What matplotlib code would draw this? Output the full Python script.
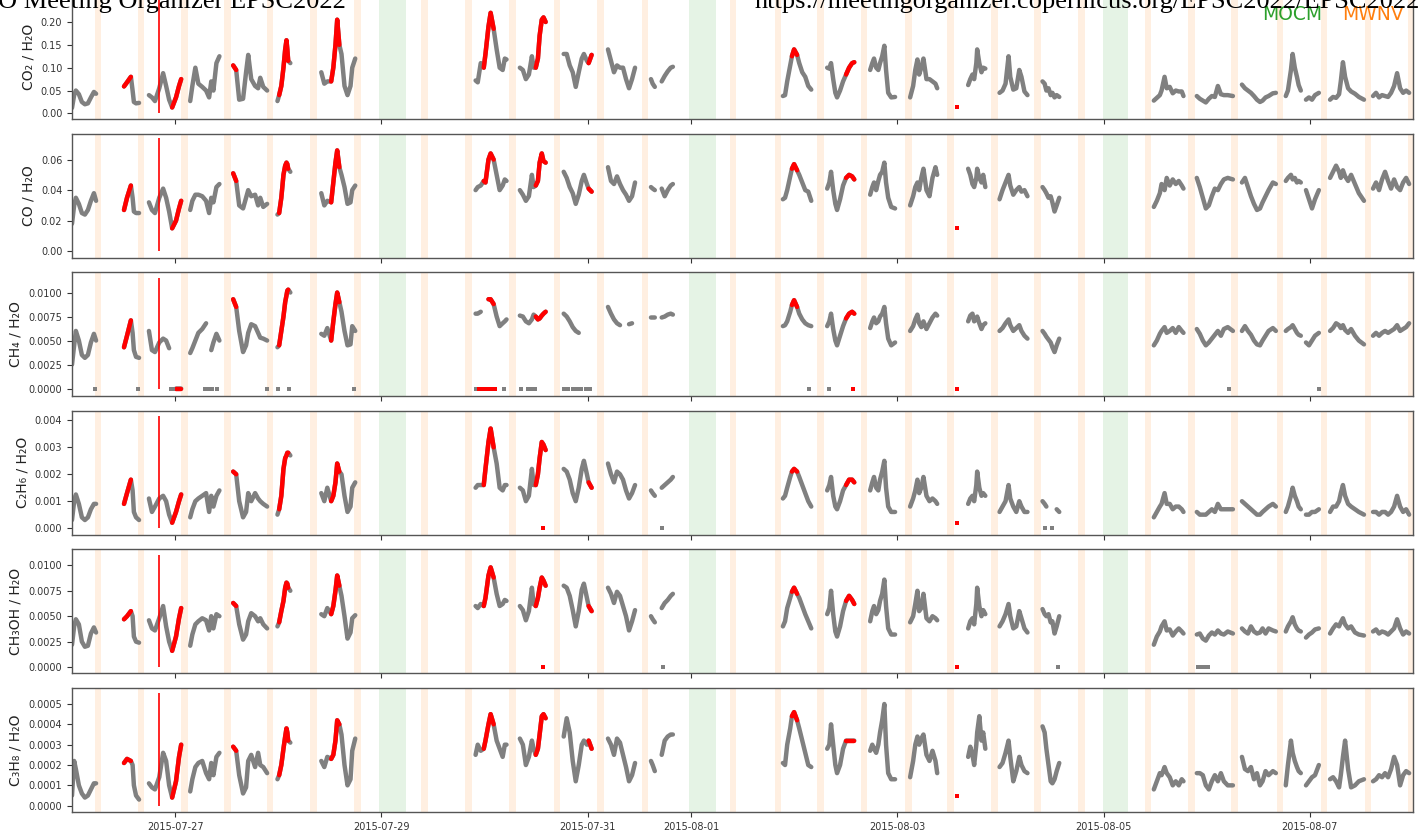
import numpy as np
import matplotlib
matplotlib.use('Agg')
import matplotlib.pyplot as plt
import matplotlib.dates as mdates
from matplotlib.ticker import FixedLocator, FormatStrFormatter

nan = np.nan

# hours since 2015-07-26 00:00 for each data segment
seg_hours = [
    [0.0, 0.5, 0.9, 1.6, 2.3, 3.0, 3.7, 4.4, 5.1, 5.6],
    [12.1, 12.8, 13.7, 14.1, 14.4, 14.9, 15.6],
    [17.9, 18.6, 19.3, 20.3, 21.2, 21.9, 22.6, 23.3, 24.2, 24.9, 25.4],
    [27.5, 28.0, 28.7, 29.4, 30.3, 31.2, 31.9, 32.4, 32.9, 33.6, 34.3],
    [37.5, 38.2, 38.9, 39.8, 40.5, 41.0, 41.7, 42.6, 43.3, 43.8, 44.5, 45.4],
    [47.8, 48.2, 48.7, 49.2, 49.6, 49.9, 50.1, 50.3, 50.8],
    [58.0, 58.7, 59.4, 60.3, 60.8, 61.3, 61.7, 62.2, 62.7, 63.4, 64.1, 64.8, 65.2, 65.9],
    [93.9, 94.4, 95.1, 95.8, 96.2, 96.9, 97.4, 98.1, 98.8, 99.5, 100.2, 100.7, 101.1],
    [104.2, 104.9, 105.6, 106.3, 107.0, 107.4, 107.9, 108.4, 108.8, 109.3, 109.7, 110.2],
    [114.4, 115.1, 115.8, 116.5, 117.2, 117.9, 118.6, 119.1, 119.8, 120.2, 120.9],
    [124.7, 125.4, 126.1, 126.8, 127.5, 128.2, 128.9, 129.6, 130.3, 131.0],
    [134.7, 135.1, 135.6, 136.3, 137.2, 137.9, 138.6, 139.3, 139.8],
    [165.4, 165.9, 166.4, 167.1, 167.5, 168.0, 168.7, 169.2, 169.9, 170.6, 171.3, 172.0],
    [175.7, 176.2, 176.6, 177.1, 177.6, 178.0, 178.7, 179.4, 180.1, 180.8, 181.5, 182.0],
    [185.7, 186.2, 186.6, 187.1, 187.6, 188.0, 188.5, 189.0, 189.4, 189.9, 190.6, 191.5],
    [195.0, 195.7, 196.2, 196.7, 197.1, 197.6, 198.1, 198.8, 199.5, 200.2, 200.9, 201.3],
    [208.5, 209.0, 209.5, 209.9, 210.4, 210.6, 211.1, 211.6, 212.0, 212.5],
    [215.8, 216.5, 217.2, 217.9, 218.3, 219.0, 219.7, 220.4, 220.9, 221.6, 222.3],
    [225.8, 226.3, 226.7, 227.2, 227.7, 228.1, 228.6, 229.1, 229.7],
    [251.7, 252.4, 253.1, 253.5, 254.2, 254.7, 255.4, 256.1, 256.8, 257.5, 258.2, 258.6],
    [261.7, 262.4, 263.1, 263.8, 264.5, 265.2, 265.9, 266.6, 267.3, 268.0, 268.9, 270.1],
    [272.2, 272.9, 273.6, 274.3, 275.0, 275.7, 276.4, 277.0, 277.7, 278.4, 279.4, 280.1],
    [282.4, 282.9, 283.6, 284.0, 284.5, 285.0, 285.4, 285.9, 286.4, 287.1, 287.8, 288.5, 289.2, 290.1],
    [292.7, 293.4, 294.1, 294.8, 295.2, 295.7, 296.2, 296.9, 297.6, 298.5, 299.4, 300.6],
    [302.7, 303.4, 304.1, 304.8, 305.5, 306.2, 306.9, 307.6, 308.3, 309.0, 309.7, 310.4, 311.1],
]

# index range (first, last) of flagged samples in each segment
seg_red = [None, (0, 2), (7, 10), None, (0, 1), (1, 7), (3, 7), (3, 7), (6, 11), (9, 10),
           None, None, (4, 6), (8, 11), None, None, None, None, None, None, None, None,
           None, None, None]

co2 = [
    [0.012, 0.040, 0.050, 0.042, 0.025, 0.020, 0.022, 0.035, 0.047, 0.043],
    [0.059, 0.068, 0.080, 0.050, 0.025, 0.022, 0.023],
    [0.040, 0.035, 0.027, 0.055, 0.088, 0.060, 0.030, 0.013, 0.035, 0.060, 0.075],
    [0.027, 0.060, 0.100, 0.065, 0.058, 0.050, 0.035, 0.070, 0.050, 0.110, 0.125],
    [0.105, 0.095, 0.030, 0.032, 0.090, 0.128, 0.075, 0.060, 0.055, 0.078, 0.058, 0.050],
    [0.027, 0.040, 0.060, 0.100, 0.140, 0.160, 0.140, 0.115, 0.110],
    [0.090, 0.065, 0.070, 0.070, 0.100, 0.150, 0.205, 0.150, 0.130, 0.060, 0.040, 0.060, 0.100, 0.120],
    [0.072, 0.068, 0.110, 0.100, 0.130, 0.190, 0.220, 0.185, 0.140, 0.100, 0.095, 0.120, 0.118],
    [0.100, 0.095, 0.075, 0.085, 0.125, 0.100, 0.100, 0.120, 0.170, 0.205, 0.210, 0.200],
    [0.130, 0.130, 0.105, 0.090, 0.058, 0.090, 0.120, 0.130, 0.115, 0.110, 0.128],
    [0.140, 0.115, 0.090, 0.105, 0.100, 0.100, 0.075, 0.055, 0.075, 0.100],
    [0.075, 0.065, 0.058, nan, 0.070, 0.082, 0.092, 0.100, 0.102],
    [0.038, 0.040, 0.070, 0.105, 0.125, 0.140, 0.128, 0.110, 0.090, 0.080, 0.060, 0.052],
    [0.100, 0.098, 0.110, 0.075, 0.045, 0.035, 0.050, 0.070, 0.085, 0.100, 0.110, 0.112],
    [0.095, 0.110, 0.120, 0.100, 0.095, 0.110, 0.125, 0.148, 0.095, 0.045, 0.035, 0.036],
    [0.035, 0.060, 0.095, 0.118, 0.085, 0.100, 0.120, 0.075, 0.075, 0.070, 0.065, 0.055],
    [0.062, 0.075, 0.085, 0.075, 0.110, 0.140, 0.110, 0.090, 0.100, 0.098],
    [0.045, 0.050, 0.065, 0.125, 0.080, 0.052, 0.055, 0.095, 0.080, 0.048, 0.040],
    [0.070, 0.065, 0.050, 0.055, 0.040, 0.045, 0.035, 0.040, 0.036],
    [0.028, 0.034, 0.040, 0.050, 0.080, 0.055, 0.058, 0.044, 0.050, 0.048, 0.048, 0.038],
    [0.038, 0.032, 0.028, 0.024, 0.032, 0.038, 0.036, 0.060, 0.042, 0.040, 0.040, 0.038],
    [0.063, 0.055, 0.050, 0.045, 0.038, 0.030, 0.025, 0.028, 0.035, 0.038, 0.044, 0.045],
    [0.038, 0.050, 0.095, 0.130, 0.100, 0.080, 0.062, 0.050, nan, 0.030, 0.035, 0.030, 0.040, 0.045],
    [0.030, 0.036, 0.034, 0.042, 0.070, 0.112, 0.080, 0.055, 0.048, 0.043, 0.036, 0.030],
    [0.038, 0.045, 0.035, 0.040, 0.038, 0.036, 0.045, 0.060, 0.088, 0.055, 0.045, 0.050, 0.045],
]

co = [
    [0.018, 0.030, 0.035, 0.031, 0.025, 0.024, 0.027, 0.033, 0.038, 0.033],
    [0.027, 0.035, 0.043, 0.035, 0.026, 0.025, 0.025],
    [0.032, 0.027, 0.025, 0.035, 0.041, 0.035, 0.026, 0.015, 0.020, 0.028, 0.033],
    [0.027, 0.033, 0.037, 0.037, 0.036, 0.033, 0.025, 0.035, 0.032, 0.042, 0.044],
    [0.051, 0.046, 0.030, 0.028, 0.035, 0.040, 0.036, 0.037, 0.030, 0.035, 0.029, 0.031],
    [0.024, 0.025, 0.035, 0.050, 0.056, 0.058, 0.057, 0.054, 0.052],
    [0.038, 0.030, 0.033, 0.032, 0.045, 0.058, 0.066, 0.055, 0.050, 0.042, 0.031, 0.032, 0.040, 0.043],
    [0.040, 0.042, 0.043, 0.046, 0.045, 0.060, 0.064, 0.060, 0.050, 0.040, 0.043, 0.047, 0.046],
    [0.040, 0.037, 0.033, 0.036, 0.050, 0.042, 0.043, 0.046, 0.058, 0.064, 0.059, 0.058],
    [0.052, 0.048, 0.042, 0.038, 0.031, 0.037, 0.046, 0.050, 0.044, 0.041, 0.039],
    [0.055, 0.046, 0.044, 0.049, 0.044, 0.040, 0.037, 0.033, 0.036, 0.045],
    [0.042, 0.041, 0.040, nan, 0.041, 0.036, 0.040, 0.043, 0.044],
    [0.034, 0.035, 0.040, 0.049, 0.054, 0.057, 0.053, 0.050, 0.045, 0.040, 0.039, 0.033],
    [0.041, 0.045, 0.052, 0.040, 0.031, 0.027, 0.034, 0.043, 0.048, 0.050, 0.049, 0.047],
    [0.037, 0.042, 0.045, 0.040, 0.046, 0.050, 0.052, 0.058, 0.045, 0.035, 0.029, 0.028],
    [0.030, 0.036, 0.042, 0.045, 0.040, 0.048, 0.054, 0.040, 0.036, 0.048, 0.055, 0.050],
    [0.054, 0.050, 0.044, 0.042, 0.048, 0.054, 0.048, 0.045, 0.050, 0.042],
    [0.034, 0.040, 0.045, 0.050, 0.043, 0.037, 0.040, 0.042, 0.039, 0.040, 0.036],
    [0.042, 0.040, 0.038, 0.035, 0.036, 0.032, 0.026, 0.030, 0.035],
    [0.029, 0.033, 0.038, 0.044, 0.040, 0.048, 0.043, 0.047, 0.044, 0.046, 0.043, 0.041],
    [0.048, 0.042, 0.035, 0.028, 0.030, 0.036, 0.041, 0.040, 0.044, 0.047, 0.048, 0.047],
    [0.045, 0.048, 0.042, 0.036, 0.031, 0.027, 0.028, 0.032, 0.036, 0.040, 0.045, 0.044],
    [0.046, 0.048, 0.050, 0.047, 0.048, 0.045, 0.046, 0.045, nan, 0.040, 0.034, 0.028, 0.034, 0.040],
    [0.048, 0.052, 0.056, 0.052, 0.048, 0.053, 0.049, 0.046, 0.050, 0.044, 0.038, 0.033],
    [0.041, 0.045, 0.040, 0.047, 0.052, 0.046, 0.041, 0.047, 0.042, 0.040, 0.045, 0.048, 0.044],
]

ch4 = [
    [0.0025, 0.0045, 0.0060, 0.0050, 0.0035, 0.0032, 0.0035, 0.0048, 0.0057, 0.0050],
    [0.0043, 0.0055, 0.0071, 0.0058, 0.0040, 0.0033, 0.0032],
    [0.0060, 0.0040, 0.0038, 0.0048, 0.0052, 0.0050, 0.0042, nan, 0.0, 0.0, 0.0],
    [0.0037, 0.0042, 0.0050, 0.0058, 0.0062, 0.0068, nan, 0.0040, 0.0048, 0.0057, 0.0050],
    [0.0093, 0.0085, 0.0060, 0.0038, 0.0045, 0.0058, 0.0067, 0.0065, 0.0058, 0.0053, 0.0052, 0.0050],
    [0.0043, 0.0045, 0.0060, 0.0075, 0.0090, 0.0097, 0.0102, 0.0103, 0.0100],
    [0.0057, 0.0055, 0.0063, 0.0050, 0.0070, 0.0088, 0.0100, 0.0090, 0.0080, 0.0060, 0.0045, 0.0046, 0.0065, 0.0060],
    [0.0078, 0.0078, 0.0080, nan, nan, 0.0093, 0.0093, 0.0088, 0.0075, 0.0065, 0.0068, 0.0070, 0.0072],
    [0.0076, 0.0075, 0.0070, 0.0068, 0.0072, 0.0077, 0.0075, 0.0072, 0.0073, 0.0076, 0.0078, 0.0080],
    [0.0078, 0.0075, 0.0070, 0.0064, 0.0060, 0.0058, nan, nan, nan, nan, nan],
    [0.0085, 0.0078, 0.0072, 0.0068, 0.0066, nan, nan, 0.0067, 0.0068, nan],
    [0.0074, 0.0074, 0.0074, nan, 0.0074, 0.0075, 0.0077, 0.0078, 0.0077],
    [0.0065, 0.0066, 0.0070, 0.0080, 0.0087, 0.0092, 0.0085, 0.0078, 0.0072, 0.0068, 0.0066, 0.0065],
    [0.0065, 0.0070, 0.0078, 0.0062, 0.0050, 0.0045, 0.0055, 0.0065, 0.0073, 0.0078, 0.0080, 0.0078],
    [0.0063, 0.0070, 0.0074, 0.0068, 0.0070, 0.0075, 0.0078, 0.0085, 0.0068, 0.0052, 0.0045, 0.0048],
    [0.0060, 0.0065, 0.0072, 0.0077, 0.0068, 0.0064, 0.0070, 0.0062, 0.0068, 0.0074, 0.0078, 0.0076],
    [0.0070, 0.0076, 0.0078, 0.0070, 0.0072, 0.0075, 0.0068, 0.0062, 0.0066, 0.0068],
    [0.0060, 0.0063, 0.0068, 0.0072, 0.0066, 0.0060, 0.0063, 0.0066, 0.0060, 0.0055, 0.0052],
    [0.0060, 0.0057, 0.0054, 0.0051, 0.0048, 0.0043, 0.0038, 0.0045, 0.0052],
    [0.0045, 0.0050, 0.0057, 0.0060, 0.0064, 0.0058, 0.0060, 0.0063, 0.0058, 0.0064, 0.0060, 0.0058],
    [0.0062, 0.0057, 0.0050, 0.0045, 0.0048, 0.0052, 0.0056, 0.0060, 0.0055, 0.0062, 0.0064, 0.0060],
    [0.0060, 0.0065, 0.0060, 0.0056, 0.0050, 0.0046, 0.0045, 0.0050, 0.0055, 0.0060, 0.0063, 0.0060],
    [0.0060, 0.0062, 0.0064, 0.0066, 0.0062, 0.0058, 0.0056, 0.0055, nan, 0.0048, 0.0045, 0.0050, 0.0055, 0.0058],
    [0.0060, 0.0063, 0.0068, 0.0066, 0.0063, 0.0066, 0.0061, 0.0058, 0.0062, 0.0055, 0.0050, 0.0046],
    [0.0055, 0.0058, 0.0055, 0.0058, 0.0060, 0.0058, 0.0060, 0.0062, 0.0066, 0.0060, 0.0062, 0.0064, 0.0068],
]

c2h6 = [
    [0.0003, 0.0010, 0.00125, 0.0009, 0.0004, 0.0003, 0.0004, 0.0007, 0.0009, 0.0009],
    [0.0009, 0.0013, 0.0018, 0.0014, 0.0006, 0.0004, 0.0003],
    [0.0011, 0.0006, 0.0008, 0.0011, 0.0012, 0.0010, 0.0005, 0.0002, 0.0006, 0.0010, 0.00125],
    [0.0004, 0.0007, 0.0010, 0.0011, 0.0012, 0.0013, 0.0006, 0.0012, 0.0008, 0.0012, 0.0014],
    [0.0021, 0.0020, 0.0010, 0.0004, 0.0006, 0.0013, 0.0010, 0.0013, 0.0011, 0.0010, 0.0009, 0.0008],
    [0.0005, 0.0007, 0.0012, 0.0022, 0.0026, 0.0027, 0.0028, 0.0028, 0.0027],
    [0.0013, 0.0010, 0.0015, 0.0010, 0.0012, 0.0017, 0.0024, 0.0021, 0.0020, 0.0012, 0.0006, 0.0008, 0.0015, 0.0017],
    [0.0015, 0.0016, 0.0016, 0.0016, 0.0022, 0.0032, 0.0037, 0.0030, 0.0024, 0.0015, 0.0014, 0.0016, 0.0016],
    [0.0015, 0.0014, 0.0010, 0.0012, 0.0022, 0.0016, 0.0016, 0.0020, 0.0026, 0.0032, 0.0031, 0.0029],
    [0.0022, 0.0021, 0.0018, 0.0013, 0.0010, 0.0015, 0.0022, 0.0025, 0.0020, 0.0017, 0.0015],
    [0.0024, 0.0020, 0.0017, 0.0021, 0.0020, 0.0018, 0.0014, 0.0011, 0.0013, 0.0016],
    [0.0014, 0.0013, 0.0012, nan, 0.0015, 0.0016, 0.0017, 0.0018, 0.0019],
    [0.0011, 0.0012, 0.0015, 0.0019, 0.0021, 0.0022, 0.0021, 0.0019, 0.0016, 0.0013, 0.0010, 0.0008],
    [0.0014, 0.0016, 0.0019, 0.0012, 0.0008, 0.0007, 0.0010, 0.0014, 0.0016, 0.0018, 0.0018, 0.0017],
    [0.0014, 0.0017, 0.0019, 0.0015, 0.0014, 0.0018, 0.0021, 0.0025, 0.0015, 0.0008, 0.0006, 0.0006],
    [0.0008, 0.0011, 0.0014, 0.0018, 0.0013, 0.0015, 0.0019, 0.0012, 0.0010, 0.0011, 0.0010, 0.0009],
    [0.0009, 0.0011, 0.0012, 0.0010, 0.0016, 0.0021, 0.0015, 0.0012, 0.0013, 0.0012],
    [0.0006, 0.0008, 0.0010, 0.0016, 0.0011, 0.0008, 0.0006, 0.0010, 0.0008, 0.0006, 0.0006],
    [0.0010, 0.0009, 0.0008, nan, nan, nan, nan, 0.0007, 0.0006],
    [0.0004, 0.0006, 0.0008, 0.0009, 0.0013, 0.0009, 0.0009, 0.0007, 0.0008, 0.0008, 0.0007, 0.0006],
    [0.0006, 0.0005, 0.0005, 0.0005, 0.0006, 0.0007, 0.0006, 0.0009, 0.0007, 0.0007, 0.0007, 0.0007],
    [0.0010, 0.0009, 0.0008, 0.0007, 0.0006, 0.0005, 0.0005, 0.0006, 0.0007, 0.0008, 0.0009, 0.0008],
    [0.0006, 0.0008, 0.0012, 0.0015, 0.0012, 0.0010, 0.0008, 0.0007, nan, 0.0005, 0.0005, 0.0006, 0.0006, 0.0007],
    [0.0006, 0.0008, 0.0008, 0.0010, 0.0013, 0.0016, 0.0012, 0.0009, 0.0008, 0.0007, 0.0006, 0.0005],
    [0.0006, 0.0006, 0.0005, 0.0006, 0.0006, 0.0005, 0.0006, 0.0008, 0.0012, 0.0008, 0.0006, 0.0007, 0.0005],
]

ch3oh = [
    [0.0022, 0.0040, 0.0047, 0.0042, 0.0025, 0.0020, 0.0021, 0.0033, 0.0039, 0.0034],
    [0.0047, 0.0050, 0.0055, 0.0050, 0.0030, 0.0025, 0.0024],
    [0.0046, 0.0038, 0.0036, 0.0048, 0.0060, 0.0040, 0.0025, 0.0016, 0.0030, 0.0048, 0.0058],
    [0.0021, 0.0032, 0.0042, 0.0045, 0.0048, 0.0046, 0.0036, 0.0050, 0.0038, 0.0052, 0.0050],
    [0.0063, 0.0060, 0.0042, 0.0027, 0.0032, 0.0045, 0.0053, 0.0050, 0.0045, 0.0048, 0.0042, 0.0038],
    [0.0040, 0.0044, 0.0055, 0.0065, 0.0078, 0.0083, 0.0082, 0.0078, 0.0075],
    [0.0052, 0.0050, 0.0058, 0.0052, 0.0060, 0.0075, 0.0090, 0.0080, 0.0070, 0.0050, 0.0028, 0.0034, 0.0048, 0.0051],
    [0.0060, 0.0058, 0.0062, 0.0060, 0.0068, 0.0090, 0.0098, 0.0088, 0.0072, 0.0060, 0.0062, 0.0066, 0.0065],
    [0.0060, 0.0056, 0.0046, 0.0055, 0.0078, 0.0062, 0.0060, 0.0068, 0.0078, 0.0088, 0.0085, 0.0080],
    [0.0080, 0.0078, 0.0070, 0.0056, 0.0040, 0.0055, 0.0076, 0.0082, 0.0068, 0.0060, 0.0055],
    [0.0078, 0.0072, 0.0063, 0.0074, 0.0070, 0.0060, 0.0050, 0.0036, 0.0045, 0.0056],
    [0.0050, 0.0047, 0.0044, nan, 0.0058, 0.0063, 0.0066, 0.0070, 0.0072],
    [0.0040, 0.0045, 0.0058, 0.0068, 0.0074, 0.0078, 0.0072, 0.0068, 0.0060, 0.0052, 0.0045, 0.0038],
    [0.0052, 0.0058, 0.0075, 0.0052, 0.0035, 0.0030, 0.0040, 0.0055, 0.0065, 0.0070, 0.0066, 0.0062],
    [0.0045, 0.0055, 0.0060, 0.0052, 0.0056, 0.0065, 0.0072, 0.0086, 0.0060, 0.0038, 0.0032, 0.0032],
    [0.0044, 0.0050, 0.0062, 0.0075, 0.0055, 0.0058, 0.0072, 0.0048, 0.0045, 0.0050, 0.0048, 0.0046],
    [0.0038, 0.0045, 0.0048, 0.0042, 0.0062, 0.0078, 0.0060, 0.0050, 0.0056, 0.0052],
    [0.0040, 0.0045, 0.0052, 0.0062, 0.0050, 0.0038, 0.0040, 0.0055, 0.0048, 0.0038, 0.0034],
    [0.0057, 0.0052, 0.0050, 0.0052, 0.0044, 0.0045, 0.0033, 0.0040, 0.0050],
    [0.0022, 0.0030, 0.0035, 0.0040, 0.0045, 0.0036, 0.0037, 0.0031, 0.0035, 0.0038, 0.0035, 0.0033],
    [0.0032, 0.0033, 0.0028, 0.0026, 0.0031, 0.0034, 0.0032, 0.0036, 0.0033, 0.0032, 0.0035, 0.0033],
    [0.0038, 0.0035, 0.0033, 0.0040, 0.0035, 0.0033, 0.0034, 0.0038, 0.0033, 0.0038, 0.0036, 0.0035],
    [0.0035, 0.0040, 0.0045, 0.0049, 0.0042, 0.0038, 0.0036, 0.0035, nan, 0.0029, 0.0032, 0.0034, 0.0037, 0.0038],
    [0.0033, 0.0038, 0.0042, 0.0040, 0.0044, 0.0048, 0.0042, 0.0038, 0.0040, 0.0034, 0.0032, 0.0031],
    [0.0035, 0.0037, 0.0033, 0.0035, 0.0034, 0.0032, 0.0035, 0.0038, 0.0047, 0.0038, 0.0032, 0.0035, 0.0033],
]

c3h8 = [
    [0.00005, 0.00022, 0.00018, 0.00010, 0.00006, 0.00004, 0.00005, 0.00008, 0.00011, 0.00011],
    [0.00021, 0.00023, 0.00022, 0.00020, 0.00010, 0.00005, 0.00003],
    [0.00011, 0.00009, 0.00008, 0.00014, 0.00026, 0.00022, 0.00010, 0.00004, 0.00012, 0.00024, 0.00030],
    [0.00007, 0.00013, 0.00019, 0.00021, 0.00022, 0.00016, 0.00013, 0.00021, 0.00015, 0.00024, 0.00026],
    [0.00029, 0.00027, 0.00015, 0.00006, 0.00009, 0.00022, 0.00025, 0.00019, 0.00026, 0.00020, 0.00019, 0.00016],
    [0.00013, 0.00015, 0.00020, 0.00028, 0.00034, 0.00038, 0.00036, 0.00032, 0.00031],
    [0.00022, 0.00019, 0.00024, 0.00023, 0.00025, 0.00032, 0.00042, 0.00040, 0.00035, 0.00020, 0.00010, 0.00013, 0.00027, 0.00033],
    [0.00025, 0.00030, 0.00027, 0.00028, 0.00032, 0.00040, 0.00045, 0.00040, 0.00032, 0.00028, 0.00024, 0.00030, 0.00030],
    [0.00033, 0.00030, 0.00020, 0.00024, 0.00032, 0.00028, 0.00025, 0.00028, 0.00035, 0.00044, 0.00045, 0.00043],
    [0.00034, 0.00043, 0.00036, 0.00022, 0.00012, 0.00020, 0.00030, 0.00032, 0.00030, 0.00032, 0.00028],
    [0.00033, 0.00030, 0.00025, 0.00033, 0.00031, 0.00025, 0.00019, 0.00012, 0.00015, 0.00021],
    [0.00022, 0.00020, 0.00017, nan, 0.00025, 0.00032, 0.00034, 0.00035, 0.00035],
    [0.00021, 0.00020, 0.00030, 0.00038, 0.00044, 0.00046, 0.00042, 0.00038, 0.00032, 0.00026, 0.00020, 0.00019],
    [0.00028, 0.00030, 0.00040, 0.00030, 0.00020, 0.00016, 0.00020, 0.00028, 0.00032, 0.00032, 0.00032, 0.00032],
    [0.00027, 0.00030, 0.00028, 0.00026, 0.00030, 0.00036, 0.00042, 0.00050, 0.00030, 0.00016, 0.00013, 0.00013],
    [0.00014, 0.00022, 0.00030, 0.00034, 0.00030, 0.00033, 0.00035, 0.00025, 0.00022, 0.00027, 0.00022, 0.00016],
    [0.00024, 0.00029, 0.00025, 0.00020, 0.00030, 0.00036, 0.00044, 0.00032, 0.00036, 0.00028],
    [0.00019, 0.00021, 0.00026, 0.00032, 0.00024, 0.00012, 0.00017, 0.00024, 0.00020, 0.00017, 0.00016],
    [0.00039, 0.00036, 0.00028, 0.00020, 0.00012, 0.00011, 0.00013, 0.00017, 0.00021],
    [0.00008, 0.00012, 0.00016, 0.00015, 0.00019, 0.00016, 0.00014, 0.00010, 0.00012, 0.00010, 0.00013, 0.00012],
    [0.00016, 0.00016, 0.00015, 0.00010, 0.00008, 0.00012, 0.00015, 0.00012, 0.00016, 0.00012, 0.00010, 0.00010],
    [0.00024, 0.00018, 0.00017, 0.00019, 0.00013, 0.00016, 0.00010, 0.00012, 0.00017, 0.00015, 0.00017, 0.00016],
    [0.00010, 0.00020, 0.00032, 0.00026, 0.00022, 0.00019, 0.00017, 0.00016, nan, 0.00010, 0.00012, 0.00014, 0.00015, 0.00020],
    [0.00013, 0.00014, 0.00012, 0.00009, 0.00015, 0.00024, 0.00032, 0.00018, 0.00009, 0.00010, 0.00012, 0.00013],
    [0.00012, 0.00013, 0.00015, 0.00014, 0.00016, 0.00014, 0.00018, 0.00024, 0.00020, 0.00010, 0.00015, 0.00017, 0.00016],
]

# isolated drop-outs: (hours, value)
gray_dots = [
    [],
    [],
    [(5.4, 0), (15.4, 0), (23.0, 0), (23.6, 0), (31.0, 0), (31.5, 0), (32.0, 0), (32.6, 0),
     (33.8, 0), (45.4, 0), (48.0, 0), (50.6, 0), (65.5, 0), (94.0, 0), (100.5, 0), (104.4, 0),
     (106.2, 0), (107.0, 0), (107.8, 0), (114.5, 0), (115.5, 0), (116.5, 0), (117.5, 0),
     (118.5, 0), (119.5, 0), (120.5, 0), (171.5, 0), (176.2, 0), (269.1, 0), (290.1, 0)],
    [(137.2, 0), (226.3, 0), (227.9, 0)],
    [(137.5, 0), (229.5, 0), (262.0, 0), (262.6, 0), (263.2, 0), (263.8, 0), (264.4, 0)],
    [],
]
red_dots = [
    [(206.0, 0.014)],
    [(206.0, 0.015)],
    [(94.8, 0), (95.5, 0), (96.2, 0), (96.9, 0), (97.6, 0), (98.3, 0), (181.7, 0), (206.0, 0)],
    [(109.5, 0), (206.0, 0.0002)],
    [(109.5, 0), (206.0, 0)],
    [(206.0, 0.00005)],
]

# flagged event (red vertical line) and its top value per panel
event_hour = 20.34
event_top = [0.247, 0.0739, 0.01156, 0.00418, 0.0110, 0.000554]

mwnv_hours = [6.1, 16.0, 26.2, 36.2, 46.1, 56.2, 66.4, 82.0, 92.3, 102.5, 112.8, 123.0, 133.3,
              153.8, 164.2, 174.1, 184.3, 194.6, 204.4, 214.6, 224.6, 234.9, 250.3, 260.5,
              270.5, 281.0, 291.3, 301.5, 311.5]
mocm_spans = [(71.5, 77.8), (143.5, 149.8), (239.8, 245.8)]

ylabels = ['CO₂ / H₂O', 'CO / H₂O', 'CH₄ / H₂O', 'C₂H₆ / H₂O', 'CH₃OH / H₂O', 'C₃H₈ / H₂O']
ylims = [(-0.0124, 0.259), (-0.0042, 0.0770), (-0.0008, 0.01212),
         (-0.00025, 0.00436), (-0.00062, 0.01157), (-0.000031, 0.000579)]
yticks = [[0, 0.05, 0.10, 0.15, 0.20], [0, 0.02, 0.04, 0.06],
          [0, 0.0025, 0.005, 0.0075, 0.01], [0, 0.001, 0.002, 0.003, 0.004],
          [0, 0.0025, 0.005, 0.0075, 0.01], [0, 0.0001, 0.0002, 0.0003, 0.0004, 0.0005]]
yfmts = ['%.2f', '%.2f', '%.4f', '%.3f', '%.4f', '%.4f']

base = mdates.date2num(np.datetime64('2015-07-26T00:00'))


def tx(hours):
    return base + np.asarray(hours, dtype=float) / 24.0


fig, axes = plt.subplots(6, 1, sharex=True, figsize=(14.2, 8.32), dpi=100)
fig.subplots_adjust(left=72 / 1420, right=1413 / 1420, bottom=20 / 832, top=1.006, hspace=0.117)

panels = [co2, co, ch4, c2h6, ch3oh, c3h8]
for k, ax in enumerate(axes):
    for c in mwnv_hours:
        ax.axvspan(tx(c - 0.75), tx(c + 0.75), color='tab:orange', alpha=0.12, lw=0)
    for a, b in mocm_spans:
        ax.axvspan(tx(a), tx(b), color='tab:green', alpha=0.12, lw=0)

    for hrs, vals, red in zip(seg_hours, panels[k], seg_red):
        x = tx(hrs)
        y = np.array(vals, dtype=float)
        ax.plot(x, y, color='gray', lw=3.2, solid_capstyle='round', solid_joinstyle='round')
        if red is not None:
            i0, i1 = red
            ax.plot(x[i0:i1 + 1], y[i0:i1 + 1], color='red', lw=3.2,
                    solid_capstyle='round', solid_joinstyle='round')

    if gray_dots[k]:
        gh, gv = zip(*gray_dots[k])
        ax.plot(tx(gh), gv, 's', color='gray', ms=2.6, mew=0)
    if red_dots[k]:
        rh, rv = zip(*red_dots[k])
        ax.plot(tx(rh), rv, 's', color='red', ms=2.6, mew=0)

    ax.vlines(tx(event_hour), 0, event_top[k], color='red', lw=1.2)

    ax.set_ylim(*ylims[k])
    ax.yaxis.set_major_locator(FixedLocator(yticks[k]))
    ax.yaxis.set_major_formatter(FormatStrFormatter(yfmts[k]))
    ax.set_ylabel(ylabels[k], fontsize=10, color='#222222')
    ax.tick_params(labelsize=7, colors='#333333', length=3.5, width=0.8)
    for s in ax.spines.values():
        s.set_edgecolor('#555555')
        s.set_linewidth(1.0)

axes[-1].set_xlim(tx(0), tx(312))
axes[-1].xaxis.set_major_locator(mdates.DayLocator(bymonthday=range(1, 32, 2)))
axes[-1].xaxis.set_major_formatter(mdates.DateFormatter('%Y-%m-%d'))

fig.text(1262 / 1420, 1 - 20 / 832, 'MOCM', color='tab:green', fontsize=13.5, va='baseline')
fig.text(1342 / 1420, 1 - 20 / 832, 'MWNV', color='tab:orange', fontsize=13.5, va='baseline')

fig.text(346 / 1420, 1 - 8 / 832, 'O Meeting Organizer EPSC2022', family='Liberation Serif',
         fontsize=19, ha='right', va='baseline', color='black')
fig.text(755 / 1420, 1 - 8 / 832, 'https://meetingorganizer.copernicus.org/EPSC2022/EPSC2022',
         family='Liberation Serif', fontsize=19, ha='left', va='baseline', color='black')

fig.savefig('out.png', dpi=100)
